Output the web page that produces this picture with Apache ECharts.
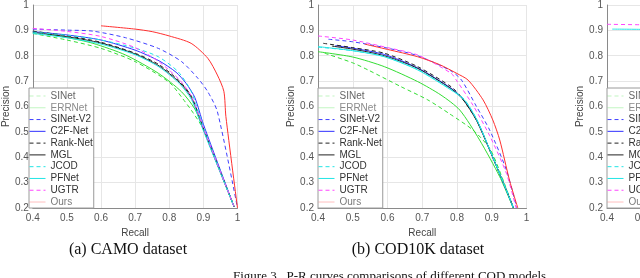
<!DOCTYPE html>
<html>
<head>
<meta charset="utf-8">
<script src="https://cdn.jsdelivr.net/npm/echarts@6/dist/echarts.min.js"></script>
<style>html,body{margin:0;padding:0;background:#fff;overflow:hidden;width:640px;height:278px}#c{width:860px;height:278px}</style>
</head>
<body>
<div id="c"></div>
<script>
// ---- Data (recall, precision) ----
const methods = ['SINet','ERRNet','SINet-V2','C2F-Net','Rank-Net','MGL','JCOD','PFNet','UGTR','Ours'];
const xTicks = [0.4,0.5,0.6,0.7,0.8,0.9,1];
const yTicks = [0.2,0.3,0.4,0.5,0.6,0.7,0.8,0.9,1];
const captions = ['(a) CAMO dataset','(b) COD10K dataset'];
const figureCaption = 'Figure 3.  P-R curves comparisons of different COD models';

// CAMO
const camo_SINet   = [[0.4,0.888],[0.5,0.862],[0.6,0.829],[0.7,0.777],[0.8,0.695],[0.84,0.63],[0.87,0.575],[0.9,0.51],[0.99,0.205]];
const camo_ERRNet  = [[0.44,0.885],[0.5,0.872],[0.576,0.849],[0.672,0.803],[0.768,0.731],[0.836,0.658],[0.875,0.59],[0.9,0.51],[0.99,0.205]];
const camo_SINetV2 = [[0.4,0.905],[0.5,0.901],[0.576,0.897],[0.672,0.871],[0.768,0.829],[0.836,0.777],[0.884,0.711],[0.913,0.658],[0.941,0.58],[1.0,0.2]];
const camo_C2FNet  = [[0.4,0.895],[0.5,0.882],[0.6,0.862],[0.7,0.822],[0.77,0.78],[0.82,0.735],[0.85,0.69],[0.875,0.635],[0.9,0.53],[0.99,0.205]];
const camo_RankNet = [[0.4,0.897],[0.5,0.879],[0.6,0.853],[0.7,0.81],[0.77,0.765],[0.83,0.7],[0.865,0.64],[0.9,0.515],[0.99,0.205]];
const camo_MGL     = [[0.4,0.892],[0.5,0.875],[0.6,0.85],[0.7,0.807],[0.77,0.76],[0.83,0.695],[0.865,0.635],[0.9,0.51],[0.99,0.205]];
const camo_JCOD    = [[0.4,0.893],[0.5,0.881],[0.6,0.862],[0.7,0.83],[0.768,0.796],[0.826,0.737],[0.864,0.66],[0.9,0.52],[0.99,0.205]];
const camo_PFNet   = [[0.4,0.888],[0.5,0.871],[0.6,0.846],[0.7,0.804],[0.77,0.756],[0.83,0.69],[0.865,0.628],[0.9,0.505],[0.99,0.205]];
const camo_UGTR    = [[0.4,0.908],[0.5,0.896],[0.6,0.876],[0.7,0.832],[0.77,0.776],[0.83,0.705],[0.865,0.64],[0.9,0.515],[0.99,0.205]];
const camo_Ours    = [[0.6,0.918],[0.7,0.905],[0.75,0.895],[0.8,0.878],[0.864,0.849],[0.913,0.79],[0.941,0.724],[0.96,0.66],[0.966,0.56],[1.0,0.2]];

// COD10K
const cod_SINet   = [[0.419,0.81],[0.5,0.772],[0.544,0.744],[0.639,0.678],[0.716,0.626],[0.78,0.57],[0.846,0.507],[0.894,0.435],[0.93,0.32],[0.962,0.2]];
const cod_ERRNet  = [[0.4,0.816],[0.5,0.795],[0.591,0.757],[0.687,0.698],[0.754,0.645],[0.808,0.586],[0.865,0.468],[0.923,0.323],[0.962,0.2]];
const cod_SINetV2 = [[0.43,0.865],[0.5,0.855],[0.6,0.83],[0.687,0.8],[0.783,0.74],[0.813,0.704],[0.856,0.6],[0.894,0.507],[0.942,0.35],[0.972,0.2]];
const cod_C2FNet  = [[0.45,0.84],[0.5,0.83],[0.591,0.805],[0.687,0.752],[0.783,0.672],[0.816,0.632],[0.856,0.549],[0.894,0.43],[0.942,0.27],[0.963,0.2]];
const cod_RankNet = [[0.415,0.849],[0.5,0.832],[0.591,0.81],[0.687,0.757],[0.783,0.678],[0.811,0.639],[0.856,0.547],[0.894,0.429],[0.942,0.271],[0.963,0.2]];
const cod_MGL     = [[0.44,0.838],[0.5,0.826],[0.591,0.8],[0.687,0.75],[0.783,0.67],[0.816,0.63],[0.856,0.545],[0.894,0.428],[0.942,0.27],[0.962,0.2]];
const cod_JCOD    = [[0.4,0.834],[0.5,0.82],[0.591,0.797],[0.687,0.746],[0.783,0.667],[0.821,0.628],[0.856,0.552],[0.894,0.432],[0.942,0.272],[0.963,0.2]];
const cod_PFNet   = [[0.4,0.836],[0.5,0.82],[0.591,0.796],[0.687,0.744],[0.783,0.665],[0.821,0.626],[0.856,0.55],[0.894,0.43],[0.942,0.27],[0.962,0.2]];
const cod_UGTR    = [[0.4,0.878],[0.5,0.862],[0.6,0.832],[0.687,0.803],[0.783,0.731],[0.798,0.704],[0.846,0.605],[0.894,0.485],[0.942,0.337],[0.97,0.2]];
const cod_Ours    = [[0.534,0.846],[0.6,0.825],[0.687,0.796],[0.75,0.765],[0.8,0.73],[0.832,0.704],[0.875,0.626],[0.903,0.547],[0.923,0.468],[0.951,0.31],[0.975,0.2]];

// third panel (only its upper-left corner is visible)
const p3_UGTR  = [[0.4,0.924],[0.5,0.922],[0.6,0.919]];
const p3_PFNet = [[0.415,0.905],[0.5,0.904],[0.6,0.901]];

const panels = [
  {SINet:camo_SINet, ERRNet:camo_ERRNet, 'SINet-V2':camo_SINetV2, 'C2F-Net':camo_C2FNet, 'Rank-Net':camo_RankNet, MGL:camo_MGL, JCOD:camo_JCOD, PFNet:camo_PFNet, UGTR:camo_UGTR, Ours:camo_Ours},
  {SINet:cod_SINet, ERRNet:cod_ERRNet, 'SINet-V2':cod_SINetV2, 'C2F-Net':cod_C2FNet, 'Rank-Net':cod_RankNet, MGL:cod_MGL, JCOD:cod_JCOD, PFNet:cod_PFNet, UGTR:cod_UGTR, Ours:cod_Ours},
  {PFNet:p3_PFNet, UGTR:p3_UGTR}
];

// ---- Styles ----
const styles = {
  'SINet':   {color:'#33dd33', type:[4,3]},
  'ERRNet':  {color:'#33dd33', type:'solid'},
  'SINet-V2':{color:'#4040ff', type:[4,3]},
  'C2F-Net': {color:'#3030ff', type:'solid'},
  'Rank-Net':{color:'#222222', type:[4,3]},
  'MGL':     {color:'#222222', type:'solid'},
  'JCOD':    {color:'#22e5e5', type:[4,3]},
  'PFNet':   {color:'#22e5e5', type:'solid'},
  'UGTR':    {color:'#ff44ff', type:[4,3]},
  'Ours':    {color:'#ff3030', type:'solid'}
};
const legendTextColor = {'SINet':'#666','ERRNet':'#8a8a8a','Ours':'#7a7a7a'};
const faded = {'SINet':true,'ERRNet':true,'Ours':true};

const gridLefts = [29, 318, 607];
const grids = gridLefts.map(l => ({left:l, top:5, width:208.5, height:203}));

const fmt = v => (Math.abs(v-1)<1e-9 ? '1' : v.toFixed(1));
const xAxes = grids.map((g,i) => ({
  gridIndex:i, type:'value', min:0.4, max:1, interval:0.1,
  name:'Recall', nameLocation:'middle', nameGap:17,
  nameTextStyle:{fontFamily:'Liberation Sans', fontSize:10, color:'#444'},
  axisLine:{lineStyle:{color:'#8a8a8a', width:1}},
  axisTick:{show:false},
  axisLabel:{formatter:fmt, fontFamily:'Liberation Sans', fontSize:10, color:'#555', margin:5},
  splitLine:{show:true, lineStyle:{color:'#e6e6e6', width:1}}
}));
const yAxes = grids.map((g,i) => ({
  gridIndex:i, type:'value', min:0.2, max:1, interval:0.1,
  name:'Precision', nameLocation:'middle', nameGap:20,
  nameTextStyle:{fontFamily:'Liberation Sans', fontSize:10, color:'#444'},
  axisLine:{show:true, lineStyle:{color:'#8a8a8a', width:1}},
  axisTick:{show:false},
  axisLabel:{formatter:fmt, fontFamily:'Liberation Sans', fontSize:10, color:'#555', margin:4},
  splitLine:{show:true, lineStyle:{color:'#e6e6e6', width:1}}
}));

const series = [];
panels.forEach((p,i) => {
  methods.forEach(m => {
    if (!p[m]) return;
    series.push({
      name:m, type:'line', xAxisIndex:i, yAxisIndex:i, data:p[m],
      showSymbol:false, symbol:'none', symbolSize:0, smooth:0.25, animation:false,
      lineStyle:{color:styles[m].color, type:styles[m].type, width:1},
      itemStyle:{color:styles[m].color},
      z: m==='Ours' ? 4 : 3
    });
  });
});

const legendData = methods.map(m => ({
  name:m,
  textStyle:{color: legendTextColor[m] || '#333'},
  lineStyle: faded[m] ? {width:1, opacity:0.3} : {width:1}
}));
const legends = gridLefts.map(l => ({
  orient:'vertical', left:l, top:88, data:legendData,
  itemWidth:16, itemHeight:10, itemGap:1.78,
  padding:[3,1,1,0],
  itemStyle:{opacity:0, borderWidth:0},
  lineStyle:{width:1},
  backgroundColor:'#fff', borderColor:'#9a9a9a', borderWidth:1,
  textStyle:{fontFamily:'Liberation Sans', fontSize:10, lineHeight:10, color:'#333'},
  selectedMode:false
}));

const graphics = [
  {type:'text', style:{text:captions[0], x:128, y:249.5, textAlign:'center', textVerticalAlign:'middle', font:'16px "Liberation Serif"', fill:'#111'}},
  {type:'text', style:{text:captions[1], x:418, y:249.5, textAlign:'center', textVerticalAlign:'middle', font:'16px "Liberation Serif"', fill:'#111'}},
  {type:'text', style:{text:figureCaption, x:233, y:277, textAlign:'left', textVerticalAlign:'middle', font:'13px "Liberation Serif"', fill:'#111'}}
];

const chart = echarts.init(document.getElementById('c'), null, {renderer:'canvas'});
chart.setOption({
  animation:false,
  grid:grids, xAxis:xAxes, yAxis:yAxes, series:series, legend:legends,
  graphic:graphics
});
</script>
</body>
</html>
